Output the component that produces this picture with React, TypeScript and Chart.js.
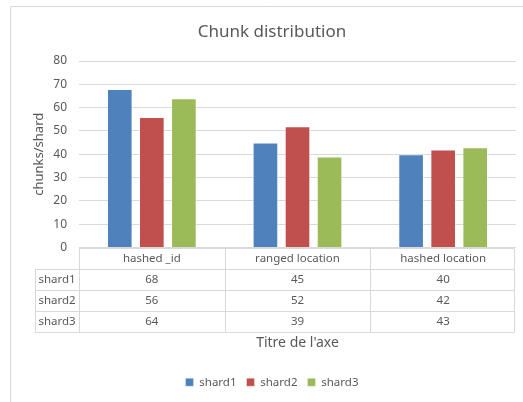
import React, { useEffect, useRef } from "react";
import { Chart, registerables } from "chart.js";

Chart.register(...registerables);

const categories = ["hashed _id", "ranged location", "hashed location"];
const seriesNames = ["shard1", "shard2", "shard3"];
const shard1 = [68, 45, 40];
const shard2 = [56, 52, 42];
const shard3 = [64, 39, 43];
const yTicks = [0, 10, 20, 30, 40, 50, 60, 70, 80];

const colors = ["#4F81BD", "#C0504D", "#9BBB59"];
const FONT = "'Noto Sans', sans-serif";
const TEXT = "#595959";
const GRID = "#D9D9D9";

const tablePlugin = {
  id: "dataTable",
  beforeDraw(chart: any) {
    const ctx = chart.ctx;
    ctx.save();
    ctx.strokeStyle = GRID;
    ctx.lineWidth = 1;
    ctx.beginPath();
    ctx.moveTo(10.5, chart.height);
    ctx.lineTo(10.5, 6.5);
    ctx.lineTo(chart.width, 6.5);
    ctx.stroke();
    ctx.restore();
  },
  afterDraw(chart: any) {
    const ctx = chart.ctx;
    const area = chart.chartArea;
    const xs = chart.scales.x;
    const n = categories.length;
    const catW = (area.right - area.left) / n;
    const rowH = 21;
    const top = Math.round(area.bottom) + 0.5;
    const leftCol = area.left - 44;
    const right = area.right - 2;
    const rows = chart.data.datasets.length;
    ctx.save();
    ctx.strokeStyle = GRID;
    ctx.lineWidth = 1;
    ctx.beginPath();
    for (let r = 0; r <= rows + 1; r++) {
      const y = top + r * rowH;
      ctx.moveTo(r === 0 ? area.left : leftCol, y);
      ctx.lineTo(right, y);
    }
    for (let c = 0; c <= n; c++) {
      const x = Math.round(c === n ? right : area.left + c * catW) + 0.5;
      ctx.moveTo(x, top);
      ctx.lineTo(x, top + (rows + 1) * rowH);
    }
    ctx.moveTo(Math.round(leftCol) + 0.5, top + rowH);
    ctx.lineTo(Math.round(leftCol) + 0.5, top + (rows + 1) * rowH);
    ctx.stroke();

    ctx.fillStyle = TEXT;
    ctx.font = "11.5px " + FONT;
    ctx.textAlign = "center";
    ctx.textBaseline = "middle";
    categories.forEach((c, i) => {
      const cx = xs.getPixelForValue(i);
      ctx.fillText(c, cx, top + rowH / 2);
    });
    chart.data.datasets.forEach((ds: any, r: number) => {
      const cy = top + (r + 1) * rowH + rowH / 2;
      ctx.fillText(ds.label, (leftCol + area.left) / 2, cy);
      ds.data.forEach((v: number, i: number) => {
        ctx.fillText(String(v), xs.getPixelForValue(i), cy);
      });
    });
    ctx.restore();
  },
};

export default function App() {
  const ref = useRef<HTMLCanvasElement | null>(null);
  useEffect(() => {
    document.body.style.margin = "0";
    const values = [shard1, shard2, shard3];
    const chart = new Chart(ref.current as HTMLCanvasElement, {
      type: "bar",
      data: {
        labels: categories,
        datasets: seriesNames.map((name, i) => ({
          label: name,
          data: values[i],
          backgroundColor: colors[i],
          borderColor: "rgba(255,255,255,0.35)",
          borderWidth: 1,
          barPercentage: 0.8,
          categoryPercentage: 0.66,
        })),
      },
      options: {
        animation: false,
        responsive: false,
        maintainAspectRatio: false,
        layout: { padding: { left: 28, right: 7, top: 0, bottom: 4 } },
        plugins: {
          title: {
            display: true,
            text: "Chunk distribution",
            color: TEXT,
            font: { family: FONT, size: 17, weight: "normal" },
            padding: { top: 22, bottom: 18.6 },
          },
          legend: {
            position: "bottom",
            labels: {
              boxWidth: 8,
              boxHeight: 8,
              color: TEXT,
              font: { family: FONT, size: 11.5 },
              padding: 10,
            },
          },
          tooltip: { enabled: false },
        },
        scales: {
          x: {
            ticks: { display: false },
            grid: { display: false },
            border: { display: false },
            title: {
              display: true,
              text: "Titre de l'axe",
              color: TEXT,
              font: { family: FONT, size: 14 },
              padding: { top: 0, bottom: 14.6 },
            },
            afterFit: (s: any) => {
              s.height = 119;
            },
          },
          y: {
            min: 0,
            max: 80,
            afterBuildTicks: (s: any) => {
              s.ticks = yTicks.map((v) => ({ value: v }));
            },
            ticks: {
              color: TEXT,
              font: { family: FONT, size: 12 },
              padding: 12,
            },
            grid: { color: GRID, drawTicks: false },
            border: { display: false },
            title: {
              display: true,
              text: "chunks/shard",
              color: TEXT,
              font: { family: FONT, size: 13 },
              padding: { top: 3, bottom: 0 },
            },
            afterFit: (s: any) => {
              s.width = 51;
            },
          },
        },
      },
      plugins: [tablePlugin],
    } as any);
    return () => chart.destroy();
  }, []);
  return (
    <div style={{ width: 523, height: 402 }}>
      <canvas ref={ref} width={523} height={402} style={{ width: 523, height: 402, display: "block" }} />
    </div>
  );
}
